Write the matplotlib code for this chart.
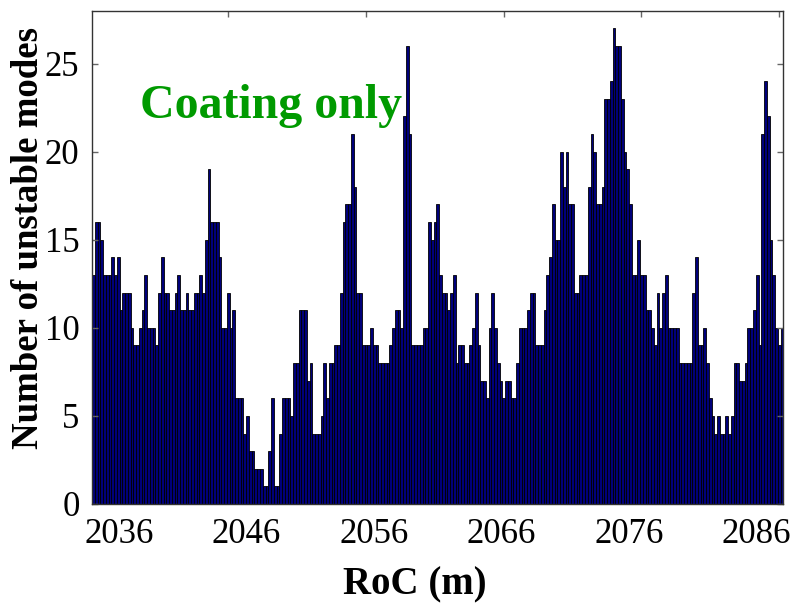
import numpy as np
import matplotlib
matplotlib.use("Agg")
import matplotlib.pyplot as plt

# ---- data ----
roc_start = 2034.0
roc_stop = 2088.0

modes_part1 = [13, 16, 16, 15, 13, 13, 13, 14, 13, 14, 11, 12, 12, 12, 10, 9, 9, 10, 11, 13,
               10, 10, 10, 9, 12, 14, 12, 12, 11, 11, 12, 13, 11, 11, 12, 11, 11, 12, 12, 13, 12]
modes_part2 = [15, 19, 16, 16, 16, 14, 10, 10, 12, 10, 11, 6, 6, 6, 4, 5, 3, 3, 2, 2, 2,
               1, 1, 3, 6, 1, 1, 4, 6, 6, 6, 5, 8, 8, 11, 11, 11, 7, 8, 4, 4, 4]
modes_part3 = [5, 8, 6, 8, 8, 9, 9, 12, 16, 17, 17, 21, 18, 12, 12, 9, 9, 9, 10, 9, 9,
               8, 8, 8, 8, 9, 10, 11, 11, 10, 22, 26, 21, 9, 9, 9, 9, 10, 10, 16, 15, 16]
modes_part4 = [17, 13, 12, 12, 11, 12, 13, 8, 9, 9, 8, 8, 9, 10, 12, 9, 7, 7, 6, 10, 12,
               10, 8, 7, 6, 7, 7, 6, 6, 8, 10, 10, 10, 11, 12, 12, 9, 9, 9, 11, 13, 14]
modes_part5 = [17, 15, 15, 20, 18, 20, 17, 17, 12, 12, 13, 13, 13, 18, 21, 20, 17, 17, 18, 23, 23,
               24, 27, 26, 26, 23, 20, 19, 17, 13, 13, 15, 13, 13, 11, 11, 10, 9, 12, 10, 12, 13]
modes_part6 = [10, 10, 10, 10, 8, 8, 8, 8, 8, 12, 14, 9, 9, 10, 8, 6, 5, 4, 5, 4, 4,
               5, 4, 5, 8, 8, 7, 7, 8, 10, 10, 11, 13, 9, 21, 24, 22, 15, 13, 10, 9, 10]

unstable_modes = (modes_part1 + modes_part2 + modes_part3 +
                  modes_part4 + modes_part5 + modes_part6)

x_tick_values = [2036, 2046, 2056, 2066, 2076, 2086]
x_tick_labels = ["2036", "2046", "2056", "2066", "2076", "2086"]
y_tick_values = [0, 5, 10, 15, 20, 25]
top_tick_index = [50, 100, 150, 200, 250]

roc = np.linspace(roc_start, roc_stop, len(unstable_modes))
step = roc[1] - roc[0]

# ---- figure ----
plt.rcParams['font.family'] = ['Liberation Serif', 'DejaVu Serif']
fig = plt.figure(figsize=(7.98, 6.04), dpi=100)
ax = fig.add_axes([92 / 798, 1 - 504 / 604, (783.3 - 92) / 798, (504 - 10.7) / 604])

ax.bar(roc, unstable_modes, width=step, facecolor='#00007A', edgecolor='black',
       linewidth=0.6, align='center')

ax.set_xlim(roc[0] - step / 2, roc[-1] + step / 2)
ax.set_ylim(0, 28)

ax.set_xticks(x_tick_values)
ax.set_xticklabels(x_tick_labels)
ax.set_yticks(y_tick_values)

ax.tick_params(axis='x', which='both', length=0, labelsize=25, pad=10)
ax.tick_params(axis='y', which='both', direction='in', length=4, width=1,
               color='#666666', labelsize=25, pad=9, right=True)

sec = ax.secondary_xaxis('top', functions=(lambda r: (r - roc_start) / step + 1,
                                           lambda i: (i - 1) * step + roc_start))
sec.set_xticks(top_tick_index)
sec.set_xticklabels([])
sec.tick_params(direction='in', length=4, width=1, color='#666666')
sec.spines['top'].set_visible(False)

for s in ax.spines.values():
    s.set_color('#333333')
    s.set_linewidth(1.0)

ax.set_xlabel('RoC (m)', fontsize=28, fontweight='bold')
ax.xaxis.set_label_coords(0.467, -0.127)
ax.set_ylabel('Number of unstable modes', fontsize=26.5, fontweight='bold')
ax.yaxis.set_label_coords(-0.066, 0.54)

ax.text(0.07, 0.807, 'Coating only', transform=ax.transAxes, color='#009A00',
        fontsize=34.5, fontweight='bold', ha='left', va='center')

fig.savefig('out.png', dpi=100)
